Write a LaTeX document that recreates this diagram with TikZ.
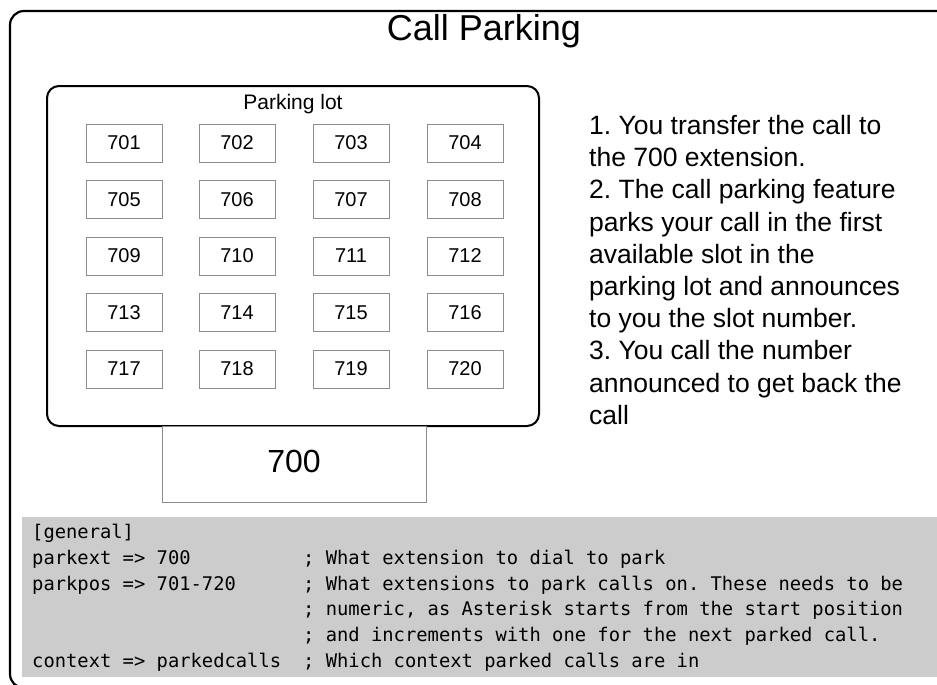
\documentclass[tikz,border=0pt]{standalone}
\usepackage{fontspec}
\setmainfont{Liberation Sans}
\newfontfamily\codefont{DejaVu Sans Mono}
\frenchspacing
\definecolor{slotgray}{HTML}{8C8C8C}
\definecolor{codebg}{HTML}{CCCCCC}
\tikzset{
  slotbox/.style={draw=slotgray, line width=0.9pt, fill=white, minimum width=76pt, minimum height=38pt, inner sep=0pt, font=\fontsize{20}{24}\selectfont},
  codeline/.style={anchor=base west, inner sep=0pt, font=\codefont\fontsize{18.8}{25.7}\selectfont},
  frameline/.style={draw=black, line width=2.2pt, rounded corners=14pt}
}
\begin{document}
\begin{tikzpicture}[x=1pt,y=-1pt]
\useasboundingbox (0,0) rectangle (937,685);
\begin{scope}
\clip (0,0) rectangle (937,685);
\draw[frameline] (10,11) rectangle (1000,688);
\end{scope}
\node[anchor=base, inner sep=0pt, font=\fontsize{36}{40}\selectfont] (title) at (484,41) {Call Parking};
% parking lot
\draw[frameline, line width=2pt, rounded corners=12pt] (47,86) rectangle (539,426);
\node[anchor=base, inner sep=0pt, font=\fontsize{21}{24}\selectfont] (lotlabel) at (293,109.5) {Parking lot};
\foreach \r/\y in {0/143,1/199.5,2/256,3/312.5,4/369}{
  \foreach \c/\x in {1/124,2/237,3/351,4/465}{
    \pgfmathtruncatemacro{\num}{700+4*\r+\c}
    \node[slotbox] (s\num) at (\x,\y) {\num};
  }
}
% 700 box
\draw[draw=slotgray, line width=0.9pt, fill=white] (162,426) rectangle (426,502);
\node[inner sep=0pt, font=\fontsize{32}{36}\selectfont] (ext700) at (294,461.7) {700};
% description
\node[anchor=north west, inner sep=0pt, align=left, font=\fontsize{26.5}{32.2}\selectfont] (desc) at (589,115) {1. You transfer the call to\\the 700 extension.\\2. The call parking feature\\parks your call in the first\\available slot in the\\parking lot and announces\\to you the slot number.\\3. You call the number\\announced to get back the\\call};
% code block
\fill[codebg] (22,517) rectangle (937,677);
\node[codeline] (c1) at (32,538.6) {[general]};
\node[codeline] (c2) at (32,564.3) {parkext => 700};
\node[codeline] (c3) at (32,590) {parkpos => 701-720};
\node[codeline] (c6) at (32,667.1) {context => parkedcalls};
\node[codeline] (k2) at (303,564.3) {; What extension to dial to park};
\node[codeline] (k3) at (303,590) {; What extensions to park calls on. These needs to be};
\node[codeline] (k4) at (303,615.7) {; numeric, as Asterisk starts from the start position};
\node[codeline] (k5) at (303,641.4) {; and increments with one for the next parked call.};
\node[codeline] (k6) at (303,667.1) {; Which context parked calls are in};
\end{tikzpicture}
\end{document}
